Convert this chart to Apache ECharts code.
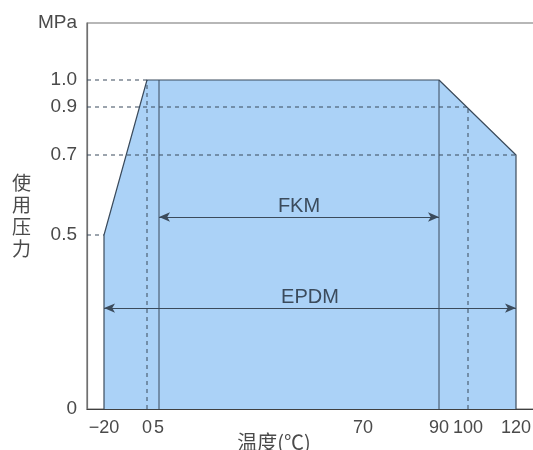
<!DOCTYPE html>
<html>
<head>
<meta charset="utf-8">
<script src="https://cdn.jsdelivr.net/npm/echarts@6/dist/echarts.min.js"></script>
<style>html,body{margin:0;padding:0;background:#fff}#c{width:533px;height:450px}</style>
</head>
<body>
<div id="c"></div>
<script>
// ---- data (real temperatures °C and pressures MPa) ----
const envelopeTemp  = [-20, -20, 0, 90, 120, 120];
const envelopePress = [0, 0.5, 1.0, 1.0, 0.7, 0];
const fkmRange  = [5, 90];
const epdmRange = [-20, 120];
const fkmLevel  = 0.545;
const epdmLevel = 0.29;
const xTickValues = [-20, 0, 5, 70, 90, 100, 120];
const xTickLabels = ['−20', '0', '5', '70', '90', '100', '120'];
const yTickValues = [0, 0.5, 0.7, 0.9, 1.0];
const yTickLabels = ['0', '0.5', '0.7', '0.9', '1.0'];
const yUnit = 'MPa';

// ---- schematic (non-uniform) axis scales: value -> axis position ----
const xScaleVals = [-20, 0, 5, 70, 90, 100, 120];
const xScalePos  = [17, 60, 72, 276, 352, 381, 429];
const yScaleVals = [0, 0.5, 0.7, 0.9, 1.0];
const yScalePos  = [0, 174, 254, 302, 329];
const yUnitPos = 386;

function interp(v, vals, pos) {
  let i = 0;
  if (v <= vals[0]) i = 0;
  else if (v >= vals[vals.length - 1]) i = vals.length - 2;
  else { while (v > vals[i + 1]) i++; }
  const t = (v - vals[i]) / (vals[i + 1] - vals[i]);
  return pos[i] + t * (pos[i + 1] - pos[i]);
}
const X = v => interp(v, xScaleVals, xScalePos);
const Y = v => interp(v, yScaleVals, yScalePos);
const P = (t, p) => [X(t), Y(p)];

const lineCol = '#3b4b5c';
const font = 'Liberation Sans, Arial, sans-serif';
const cjk = 'Noto Sans CJK SC, sans-serif';

const xLabelPos = xTickValues.map(X);
const yLabelPos = yTickValues.map(Y).concat([yUnitPos]);
const yLabelTxt = yTickLabels.concat([yUnit]);
function lookup(v, posArr, txtArr) {
  for (let i = 0; i < posArr.length; i++) if (Math.abs(posArr[i] - v) < 0.01) return txtArr[i];
  return '';
}

function seg(a, b, dashed) {
  return {
    type: 'line', data: [a, b], symbol: 'none', silent: true, z: 4,
    lineStyle: { color: lineCol, width: 1, type: dashed ? [4, 4] : 'solid' }
  };
}

const envelope = envelopeTemp.map((t, i) => P(t, envelopePress[i]));

const series = [
  {
    type: 'line', data: envelope, symbol: 'none', z: 2,
    lineStyle: { color: lineCol, width: 1.2 },
    areaStyle: { color: '#abd2f7', opacity: 1 }
  },
  // solid FKM range verticals
  seg(P(fkmRange[0], 0), P(fkmRange[0], 1.0), false),
  seg(P(fkmRange[1], 0), P(fkmRange[1], 1.0), false),
  // dashed guides from the pressure axis
  seg([0, Y(1.0)], P(0, 1.0), true),
  seg([0, Y(0.9)], P(100, 0.9), true),
  seg([0, Y(0.7)], P(120, 0.7), true),
  seg([0, Y(0.5)], P(-20, 0.5), true),
  // dashed guides from the temperature axis
  seg(P(0, 0), P(0, 1.0), true),
  seg(P(100, 0), P(100, 0.9), true),
  {
    type: 'line', data: [], symbol: 'none',
    markLine: {
      silent: true, animation: false,
      symbol: ['arrow', 'arrow'], symbolSize: [7, 11],
      lineStyle: { color: lineCol, width: 1.2, type: 'solid' },
      label: { show: true, position: 'insideMiddleTop', color: '#3b4b5c', fontSize: 20, fontFamily: font, distance: 1 },
      data: [
        [{ coord: P(fkmRange[0], fkmLevel), label: { formatter: 'FKM' } },
         { coord: P(fkmRange[1], fkmLevel) }],
        [{ coord: P(epdmRange[0], epdmLevel), label: { formatter: 'EPDM' } },
         { coord: P(epdmRange[1], epdmLevel) }]
      ]
    }
  }
];

const chart = echarts.init(document.getElementById('c'));
chart.setOption({
  animation: false,
  backgroundColor: '#fff',
  grid: { left: 87, top: 23, right: -20, bottom: 41, outerBoundsMode: 'none', containLabel: false,
          show: true, borderColor: '#707070', borderWidth: 1.2, backgroundColor: 'transparent' },
  xAxis: {
    type: 'value', min: 0, max: 466,
    splitLine: { show: false },
    axisLine: { show: true, lineStyle: { color: '#404040', width: 1.2 } },
    axisTick: { show: false },
    axisLabel: {
      customValues: xLabelPos, margin: 10, color: '#4a4a4a', fontSize: 18, fontFamily: font,
      formatter: v => lookup(v, xLabelPos, xTickLabels)
    },
    name: '温度(℃)', nameLocation: 'middle', nameGap: 23, nameMoveOverlap: false,
    nameTextStyle: { color: '#4a4a4a', fontSize: 20, fontFamily: cjk, padding: [0, 92, 0, 0] }
  },
  yAxis: {
    type: 'value', min: 0, max: 386,
    splitLine: { show: false },
    axisLine: { show: true, lineStyle: { color: '#707070', width: 1.2 } },
    axisTick: { show: false },
    axisLabel: {
      customValues: yLabelPos, margin: 10, color: '#4a4a4a', fontSize: 19, fontFamily: font,
      formatter: v => lookup(v, yLabelPos, yLabelTxt)
    },
    name: '使\n用\n压\n力', nameLocation: 'middle', nameGap: 56, nameRotate: 0, nameMoveOverlap: false,
    nameTextStyle: { color: '#4a4a4a', fontSize: 19, lineHeight: 22, fontFamily: cjk, padding: [0, 0, 18, 0] }
  },
  series: series
});
</script>
</body>
</html>
